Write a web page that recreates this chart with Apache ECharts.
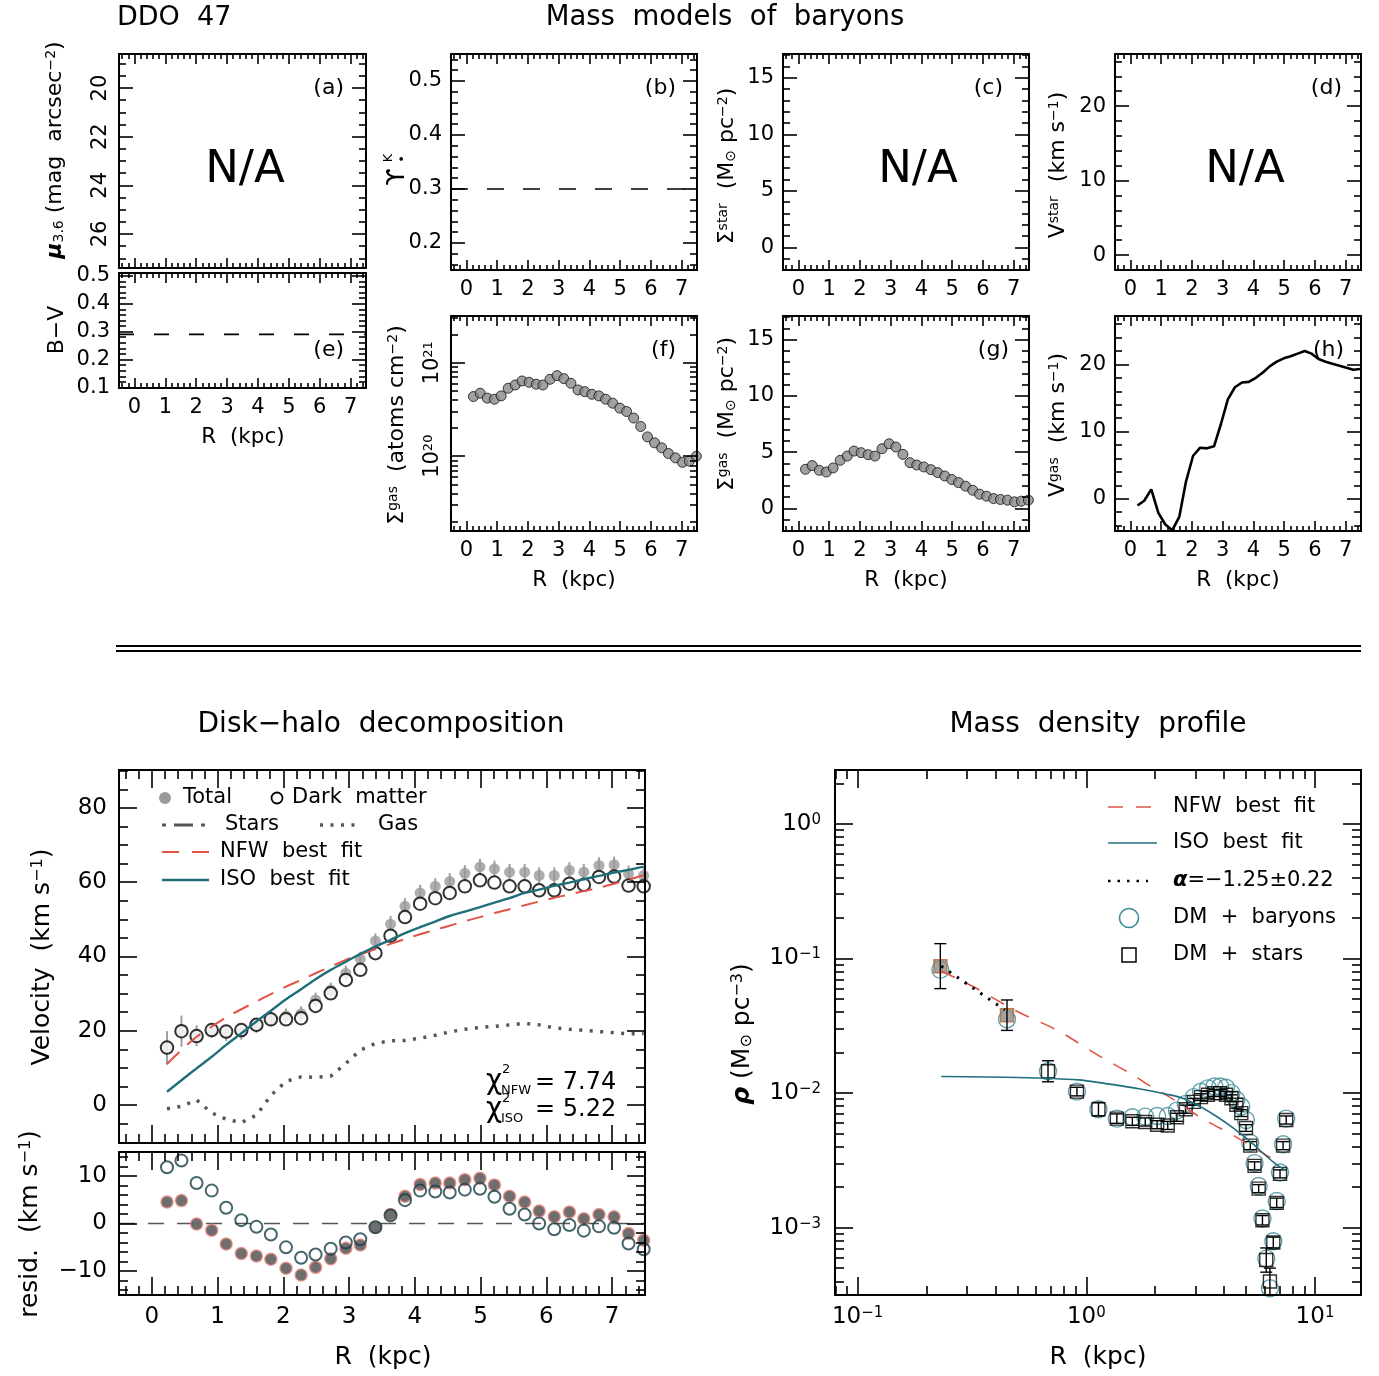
<!DOCTYPE html>
<html><head><meta charset="utf-8">
<script src="https://cdn.jsdelivr.net/npm/echarts@6/dist/echarts.min.js"></script>
<style>html,body{margin:0;padding:0;background:#fff}#c{width:1379px;height:1376px}</style>
</head><body><div id="c"></div>
<script>
// ---------------- DATA ----------------
const R = [0.23, 0.45, 0.68, 0.91, 1.13, 1.36, 1.59, 1.81, 2.04, 2.27, 2.49, 2.72, 2.95, 3.17, 3.40, 3.63, 3.85, 4.08, 4.31, 4.53, 4.76, 4.99, 5.21, 5.44, 5.67, 5.89, 6.12, 6.35, 6.57, 6.80, 7.03, 7.25, 7.48];
const sigmaGasAtoms = [4.35e20, 4.72e20, 4.18e20, 4.07e20, 4.42e20, 5.33e20, 5.78e20, 6.38e20, 6.18e20, 5.89e20, 5.78e20, 6.65e20, 7.28e20, 6.76e20, 6.03e20, 5.12e20, 4.91e20, 4.60e20, 4.42e20, 4.07e20, 3.69e20, 3.27e20, 3.01e20, 2.56e20, 2.08e20, 1.61e20, 1.39e20, 1.23e20, 1.07e20, 0.96e20, 0.86e20, 0.885e20, 1.0e20];
const sigmaGasMsun = [3.48, 3.81, 3.39, 3.24, 3.60, 4.28, 4.66, 5.10, 4.96, 4.78, 4.66, 5.31, 5.75, 5.46, 4.81, 4.07, 3.86, 3.69, 3.45, 3.19, 2.89, 2.57, 2.30, 1.98, 1.62, 1.27, 1.09, 0.88, 0.80, 0.74, 0.59, 0.65, 0.74];
const vGas = [-1.0, -0.3, 1.4, -2.1, -3.8, -4.7, -2.7, 2.6, 6.4, 7.6, 7.5, 7.8, 11.2, 14.8, 16.6, 17.3, 17.4, 18.0, 18.8, 19.7, 20.4, 20.9, 21.2, 21.6, 22.0, 21.6, 20.8, 20.4, 20.1, 19.8, 19.5, 19.2, 19.3];
const vTotal = [15.4, 19.9, 18.7, 20.1, 19.4, 19.6, 21.4, 23.2, 24.0, 24.6, 28.3, 31.0, 35.5, 39.3, 44.2, 48.7, 53.5, 57.1, 58.9, 60.2, 62.4, 64.1, 63.6, 62.7, 62.7, 61.8, 61.8, 63.2, 62.7, 64.5, 64.7, 62.3, 61.8];
const vErr = [4.5, 4.2, 2.8, 2.0, 2.2, 2.0, 2.0, 2.0, 2.0, 2.0, 2.0, 2.0, 2.0, 2.0, 2.0, 2.2, 2.2, 2.2, 2.2, 2.2, 2.2, 2.2, 2.2, 2.2, 2.2, 2.2, 2.2, 2.2, 2.2, 2.2, 2.2, 2.2, 2.2];
const vDM = [15.5, 19.9, 18.6, 20.2, 19.8, 20.2, 21.6, 23.1, 23.1, 23.4, 26.7, 30.1, 33.7, 36.4, 40.9, 45.6, 50.6, 54.2, 55.7, 57.1, 58.9, 60.5, 59.9, 58.9, 58.9, 57.8, 57.8, 59.6, 59.3, 61.4, 61.5, 59.1, 58.9];
const vNFW = [11.05, 14.8, 18.4, 21.1, 23.6, 25.8, 27.9, 29.9, 31.9, 33.7, 35.5, 37.3, 39.1, 40.6, 42.0, 43.4, 44.7, 46.0, 47.2, 48.3, 49.5, 50.6, 51.7, 52.7, 53.8, 54.8, 55.8, 56.7, 57.6, 58.5, 59.6, 60.7, 61.9];
const vISO = [3.6, 6.7, 9.9, 13.0, 16.2, 19.3, 22.5, 25.4, 28.5, 31.2, 33.9, 36.4, 38.6, 40.7, 42.7, 44.5, 46.3, 47.9, 49.4, 50.9, 52.1, 53.3, 54.5, 55.7, 57.1, 58.0, 59.0, 59.9, 60.8, 61.7, 62.6, 63.3, 64.2];
const residNFW = [4.5, 4.8, -0.1, -1.4, -4.3, -6.3, -6.8, -7.5, -9.4, -10.8, -9.2, -7.4, -5.2, -4.5, -0.8, 1.9, 5.7, 8.2, 8.5, 8.5, 9.2, 9.5, 8.1, 5.7, 4.5, 2.6, 1.4, 2.4, 1.0, 1.9, 1.4, -2.1, -3.5];
const residISO = [11.8, 13.2, 8.5, 6.9, 3.3, 0.7, -0.7, -2.3, -5.0, -7.2, -6.5, -5.3, -4.0, -3.3, -0.8, 1.7, 4.9, 6.9, 6.7, 6.5, 7.1, 7.3, 5.6, 3.1, 1.9, 0.0, -1.2, -0.3, -1.5, -0.6, -0.9, -4.2, -5.4];
const upsilonK = 0.30;
const colorBV = 0.29;
const residZero = 0;
// density profile
const rhoBaryons = [0.0826, 0.0353, 0.01452, 0.01026, 0.00759, 0.00646, 0.00661, 0.00668, 0.00676, 0.00676, 0.00741, 0.00832, 0.00933, 0.01023, 0.01084, 0.01119, 0.01119, 0.01096, 0.0100, 0.00891, 0.00794, 0.00631, 0.00427, 0.00302, 0.00204, 0.00117, 0.000589, 0.000355, 0.000794, 0.00158, 0.00257, 0.00417, 0.00646];
const rhoStars = [0.0877, 0.0379, 0.01452, 0.01026, 0.00759, 0.00646, 0.00617, 0.00610, 0.00582, 0.00575, 0.00661, 0.00759, 0.00861, 0.00933, 0.00971, 0.0100, 0.0100, 0.00971, 0.00916, 0.00818, 0.0071, 0.0055, 0.00407, 0.00288, 0.00195, 0.001135, 0.000575, 0.000398, 0.000776, 0.00153, 0.00251, 0.00407, 0.00631];
const rhoErrDex = [0.167, 0.113, 0.078, 0.032, 0.05, 0.035, 0.03, 0.03, 0.03, 0.03, 0.03, 0.03, 0.025, 0.025, 0.025, 0.025, 0.025, 0.025, 0.025, 0.025, 0.025, 0.025, 0.03, 0.03, 0.03, 0.035, 0.09, 0.1, 0.04, 0.035, 0.03, 0.03, 0.03];
const alphaFitIdx = [0, 1];
const isoCurveR = [0.232, 0.501, 0.923, 1.219, 1.722, 2.275, 2.655, 3.141, 3.715, 4.395, 5.2, 6.152, 6.81, 7.396];
const isoCurveRho = [0.01327, 0.01306, 0.01253, 0.01175, 0.01072, 0.00977, 0.00912, 0.00794, 0.0067, 0.0055, 0.00438, 0.00338, 0.00293, 0.00269];
const nfwCurveR = [0.232, 0.326, 0.494, 0.75, 1.137, 1.61, 1.9, 2.28, 3.19, 4.43, 6.17, 6.65];
const nfwCurveRho = [0.0807, 0.0608, 0.0407, 0.0291, 0.0189, 0.01352, 0.0113, 0.0095, 0.00652, 0.00481, 0.00342, 0.00319];
const alphaR = [0.232, 0.44];
const alphaRho = [0.0877, 0.0415];
// tick labels
const rTicks = [0, 1, 2, 3, 4, 5, 6, 7];
const muTicks = [20, 22, 24, 26];
const bvTicks = [0.1, 0.2, 0.3, 0.4, 0.5];
const upsTicks = [0.2, 0.3, 0.4, 0.5];
const sigTicks = [0, 5, 10, 15];
const vTicks = [0, 10, 20];
const gasLogTicks = [20, 21];
const velTicks = [0, 20, 40, 60, 80];
const resTicks = [-10, 0, 10];
const densXLogTicks = [-1, 0, 1];
const densYLogTicks = [-3, -2, -1, 0];

// ---------------- HELPERS ----------------
const FONT = 'DejaVu Sans';
const BLACK = '#000';
const RED = '#e05346';
const TEAL = '#1f6f7b';
const grids = [], xAxes = [], yAxes = [], series = [], graphics = [];

function steps(a, b, s) { const o = []; for (let v = a; v <= b + 1e-9; v += s) o.push(+v.toFixed(6)); return o; }
function linMinors(min, max, s, majors) {
  return steps(Math.ceil(min / s - 1e-9) * s, max, s).filter(v => v >= min - 1e-9 && !majors.some(m => Math.abs(m - v) < 1e-6));
}
function logMinors(lmin, lmax) {
  const o = [];
  for (let n = Math.floor(lmin); n <= Math.ceil(lmax); n++) for (let k = 2; k <= 9; k++) {
    const v = n + Math.log10(k); if (v >= lmin - 1e-9 && v <= lmax + 1e-9) o.push(v);
  }
  return o;
}
const fmtLin = v => (v < 0 ? '\u2212' + Math.abs(v) : String(v));
const fmtLog = v => { const e = Math.round(v); return '{b|10}{s|' + (e < 0 ? '\u2212' + Math.abs(e) : e) + '}'; };
const logRich = (fs) => ({
  b: { fontSize: fs, fontFamily: FONT, color: BLACK },
  s: { fontSize: Math.round(fs * 0.64), fontFamily: FONT, color: BLACK, verticalAlign: 'top' }
});

function baseAxis(g, pos, type, min, max, o) {
  const ax = {
    type: type, gridIndex: g, position: pos, min: min, max: max, inverse: !!o.inverse,
    axisLine: { show: !!o.line, onZero: false, lineStyle: { color: BLACK, width: 2 } },
    axisTick: o.ticks ? { show: true, inside: true, length: o.len, customValues: o.ticks, lineStyle: { color: BLACK, width: 1.6 } } : { show: false },
    axisLabel: { show: false },
    splitLine: { show: false }, minorTick: { show: false }, minorSplitLine: { show: false },
    axisPointer: { show: false }, silent: true, z: 10
  };
  if (type === 'log') ax.logBase = 10;
  if (o.labels) {
    ax.axisLabel = { show: true, customValues: o.labels, color: BLACK, fontFamily: FONT, fontSize: o.fs || 21,
      margin: o.margin == null ? 8 : o.margin, rotate: o.rotate || 0, formatter: o.fmt || fmtLin,
      showMinLabel: true, showMaxLabel: true };
    if (o.rich) ax.axisLabel.rich = o.rich;
  }
  return ax;
}
function panel(box, X, Y) {
  const g = grids.length;
  grids.push({ left: box[0], top: box[1], width: box[2], height: box[3], containLabel: false });
  const xi = xAxes.length, yi = yAxes.length;
  const xt = X.type === 'log' ? [Math.log10(X.min), Math.log10(X.max)] : [X.min, X.max];
  const yt = Y.type === 'log' ? [Math.log10(Y.min), Math.log10(Y.max)] : [Y.min, Y.max];
  xAxes.push(baseAxis(g, 'bottom', X.type, X.min, X.max, { line: true }));
  xAxes.push(baseAxis(g, 'bottom', 'value', xt[0], xt[1], { ticks: X.majors, len: X.majLen, labels: X.labels ? X.majors : null, fs: X.fs, margin: X.margin, fmt: X.fmt, rich: X.rich, rotate: X.rotate }));
  xAxes.push(baseAxis(g, 'bottom', 'value', xt[0], xt[1], { ticks: X.minors, len: X.minLen }));
  xAxes.push(baseAxis(g, 'top', 'value', xt[0], xt[1], { line: true, ticks: X.majors, len: X.majLen }));
  xAxes.push(baseAxis(g, 'top', 'value', xt[0], xt[1], { ticks: X.minors, len: X.minLen }));
  const inv = !!Y.inverse;
  yAxes.push(baseAxis(g, 'left', Y.type, Y.min, Y.max, { line: true, inverse: inv }));
  yAxes.push(baseAxis(g, 'left', 'value', yt[0], yt[1], { inverse: inv, ticks: Y.majors, len: Y.majLen, labels: Y.labels ? Y.majors : null, fs: Y.fs, margin: Y.margin, fmt: Y.fmt, rich: Y.rich, rotate: Y.rotate }));
  yAxes.push(baseAxis(g, 'left', 'value', yt[0], yt[1], { inverse: inv, ticks: Y.minors, len: Y.minLen }));
  yAxes.push(baseAxis(g, 'right', 'value', yt[0], yt[1], { inverse: inv, line: true, ticks: Y.majors, len: Y.majLen }));
  yAxes.push(baseAxis(g, 'right', 'value', yt[0], yt[1], { inverse: inv, ticks: Y.minors, len: Y.minLen }));
  return { xi, yi };
}
function S(p, o) { return Object.assign({ xAxisIndex: p.xi, yAxisIndex: p.yi, animation: false, silent: true }, o); }

function smallX(labels) {
  return { type: 'value', min: -0.5, max: 7.5, majors: rTicks, minors: linMinors(-0.5, 7.5, 0.2, rTicks), majLen: 10, minLen: 5, labels: labels, fs: 21, margin: 9 };
}
function bigX(labels) {
  return { type: 'value', min: -0.5, max: 7.5, majors: rTicks, minors: linMinors(-0.5, 7.5, 0.2, rTicks), majLen: 18, minLen: 9, labels: labels, fs: 23, margin: 11 };
}
function smallY(min, max, majors, step, extra) {
  return Object.assign({ type: 'value', min, max, majors, minors: linMinors(min, max, step, majors), majLen: 14, minLen: 7, labels: true, fs: 21, margin: 9 }, extra || {});
}

// ---------------- PANELS ----------------
const pA = panel([119, 54, 247, 214], smallX(false), smallY(18.6, 27.4, muTicks, 0.5, { inverse: true, rotate: 90, margin: 8 }));
const pE = panel([119, 273, 247, 115], smallX(true), smallY(0.098, 0.51, bvTicks, 0.02));
const pB = panel([451, 54, 246, 216], smallX(true), smallY(0.15, 0.55, upsTicks, 0.02));
const pC = panel([783, 54, 246, 216], smallX(true), smallY(-2, 17.1, sigTicks, 1));
const pD = panel([1115, 54, 246, 216], smallX(true), smallY(-2, 27, vTicks, 2));
const pF = panel([451, 316, 246, 215], smallX(true), { type: 'log', min: Math.pow(10, 19.2), max: Math.pow(10, 21.5), majors: gasLogTicks, minors: logMinors(19.2, 21.5), majLen: 14, minLen: 7, labels: true, fs: 21, margin: 8, rotate: 90, fmt: fmtLog, rich: logRich(21) });
const pG = panel([783, 316, 246, 215], smallX(true), smallY(-2, 17.1, sigTicks, 1));
const pH = panel([1115, 316, 246, 215], smallX(true), smallY(-4.8, 27.2, vTicks, 2));
const pV = panel([119, 770, 526, 373], bigX(false), { type: 'value', min: -10.2, max: 90.2, majors: velTicks, minors: linMinors(-10.2, 90.2, 5, velTicks), majLen: 18, minLen: 9, labels: true, fs: 23, margin: 12 });
const pR = panel([119, 1152, 526, 143], bigX(true), { type: 'value', min: -15, max: 15, majors: resTicks, minors: linMinors(-15, 15, 2, resTicks), majLen: 18, minLen: 9, labels: true, fs: 23, margin: 12 });
const dxMin = Math.pow(10, -1.0988), dxMax = Math.pow(10, 1.201), dyMin = Math.pow(10, -3.5), dyMax = Math.pow(10, 0.4);
const pP = panel([835, 770, 526, 525],
  { type: 'log', min: dxMin, max: dxMax, majors: densXLogTicks, minors: logMinors(-1.0988, 1.201), majLen: 18, minLen: 9, labels: true, fs: 23, margin: 11, fmt: fmtLog, rich: logRich(23) },
  { type: 'log', min: dyMin, max: dyMax, majors: densYLogTicks, minors: logMinors(-3.5, 0.4), majLen: 18, minLen: 9, labels: true, fs: 23, margin: 14, fmt: fmtLog, rich: logRich(23) });

// ---------------- SERIES ----------------
const gasSym = { symbol: 'circle', symbolSize: 10, itemStyle: { color: '#8a8a8a', borderColor: '#111', borderWidth: 1 } };
series.push(S(pB, { type: 'line', data: [[-0.5, upsilonK], [7.5, upsilonK]], symbol: 'none', lineStyle: { color: BLACK, width: 1.6, type: [17, 19] } }));
series.push(S(pE, { type: 'line', data: [[-0.5, colorBV], [7.5, colorBV]], symbol: 'none', lineStyle: { color: BLACK, width: 1.6, type: [15, 20] } }));
series.push(S(pF, Object.assign({ type: 'scatter', data: R.map((r, i) => [r, sigmaGasAtoms[i]]) }, gasSym)));
series.push(S(pG, Object.assign({ type: 'scatter', data: R.map((r, i) => [r, sigmaGasMsun[i]]) }, gasSym)));
series.push(S(pH, { type: 'line', data: R.map((r, i) => [r, vGas[i]]), symbol: 'none', lineStyle: { color: BLACK, width: 2.6 } }));

function errBars(p, data, color, width, cap, z) {
  return S(p, { type: 'custom', data: data, z: z || 2, clip: true,
    encode: { x: 0, y: [1, 2] },
    renderItem: function (params, api) {
      const x = api.value(0), lo = api.value(1), hi = api.value(2);
      const a = api.coord([x, lo]), b = api.coord([x, hi]);
      const ch = [{ type: 'line', shape: { x1: a[0], y1: a[1], x2: b[0], y2: b[1] }, style: { stroke: color, lineWidth: width } }];
      if (cap) {
        ch.push({ type: 'line', shape: { x1: a[0] - cap, y1: a[1], x2: a[0] + cap, y2: a[1] }, style: { stroke: color, lineWidth: width } });
        ch.push({ type: 'line', shape: { x1: b[0] - cap, y1: b[1], x2: b[0] + cap, y2: b[1] }, style: { stroke: color, lineWidth: width } });
      }
      return { type: 'group', children: ch };
    } });
}
// disk-halo
series.push(errBars(pV, R.map((r, i) => [r, vTotal[i] - vErr[i], vTotal[i] + vErr[i]]), '#a0a0a0', 2, 0, 2));
series.push(S(pV, { type: 'scatter', z: 3, data: R.map((r, i) => [r, vTotal[i]]), symbol: 'circle', symbolSize: 11, itemStyle: { color: '#9a9a9a' } }));
series.push(S(pV, { type: 'scatter', z: 4, data: R.map((r, i) => [r, vDM[i]]), symbol: 'circle', symbolSize: 12.5, itemStyle: { color: '#fff', borderColor: BLACK, borderWidth: 2 } }));
series.push(S(pV, { type: 'line', z: 5, data: R.map((r, i) => [r, vGas[i]]), symbol: 'none', lineStyle: { color: '#555', width: 3.5, type: [3, 7.5] } }));
series.push(S(pV, { type: 'line', z: 6, data: R.map((r, i) => [r, vNFW[i]]), symbol: 'none', smooth: 0.3, lineStyle: { color: RED, width: 2, type: [17, 11] } }));
series.push(S(pV, { type: 'line', z: 7, data: R.map((r, i) => [r, vISO[i]]), symbol: 'none', smooth: 0.3, lineStyle: { color: TEAL, width: 2.4 } }));
// residuals
series.push(S(pR, { type: 'line', z: 2, data: [[-0.5, residZero], [7.5, residZero]], symbol: 'none', lineStyle: { color: '#555', width: 1.6, type: [16, 13] } }));
series.push(S(pR, { type: 'scatter', z: 3, data: R.map((r, i) => [r, residNFW[i]]), symbol: 'circle', symbolSize: 12, itemStyle: { color: '#4a4a4a', borderColor: '#e8877d', borderWidth: 1.5 } }));
series.push(S(pR, { type: 'scatter', z: 4, data: R.map((r, i) => [r, residISO[i]]), symbol: 'circle', symbolSize: 12, itemStyle: { color: 'rgba(0,0,0,0)', borderColor: '#173f47', borderWidth: 2 } }));
// density
series.push(errBars(pP, R.map((r, i) => [r, rhoStars[i] * Math.pow(10, -rhoErrDex[i]), rhoStars[i] * Math.pow(10, rhoErrDex[i])]), BLACK, 1.4, 6, 5));
series.push(S(pP, { type: 'scatter', z: 3, data: R.map((r, i) => [r, rhoBaryons[i]]), symbol: 'circle', symbolSize: 17, itemStyle: { color: 'rgba(0,0,0,0)', borderColor: '#3c8b97', borderWidth: 1.4 } }));
series.push(S(pP, { type: 'scatter', z: 4, data: R.map((r, i) => [r, rhoStars[i]]).filter((d, i) => alphaFitIdx.indexOf(i) < 0), symbol: 'rect', symbolSize: 13, itemStyle: { color: 'rgba(0,0,0,0)', borderColor: BLACK, borderWidth: 1.4 } }));
series.push(S(pP, { type: 'scatter', z: 4, data: alphaFitIdx.map(i => [R[i], rhoStars[i]]), symbol: 'rect', symbolSize: 13, itemStyle: { color: '#8c8c8c', borderColor: '#b8642a', borderWidth: 1.5 } }));
series.push(S(pP, { type: 'line', z: 6, data: nfwCurveR.map((r, i) => [r, nfwCurveRho[i]]), symbol: 'none', smooth: 0.3, lineStyle: { color: RED, width: 1.6, type: [15, 13] } }));
series.push(S(pP, { type: 'line', z: 7, data: isoCurveR.map((r, i) => [r, isoCurveRho[i]]), symbol: 'none', smooth: 0.3, lineStyle: { color: TEAL, width: 1.6 } }));
series.push(S(pP, { type: 'line', z: 8, data: alphaR.map((r, i) => [r, alphaRho[i]]), symbol: 'none', lineStyle: { color: BLACK, width: 3, type: [2.5, 7] } }));

// ---------------- TEXT & DECORATION ----------------
function RT(fs) {
  const sm = Math.round(fs * 0.62);
  return {
    n: { fontSize: fs, fontFamily: FONT, fill: BLACK, color: BLACK },
    p: { fontSize: sm, fontFamily: FONT, fill: BLACK, color: BLACK, verticalAlign: 'top' },
    b: { fontSize: sm, fontFamily: FONT, fill: BLACK, color: BLACK, verticalAlign: 'bottom' },
    g: { fontSize: fs, fontFamily: FONT, fill: BLACK, color: BLACK, fontWeight: 'bold', fontStyle: 'italic' }
  };
}
function T(x, y, text, o) {
  o = o || {};
  const al = o.align || 'center';
  graphics.push({ type: 'text', x: x, y: y, rotation: o.rot || 0, silent: true, z: 100,
    style: { text: text, fill: BLACK, fontFamily: FONT, fontSize: o.fs || 22, fontStyle: o.italic ? 'italic' : 'normal',
      align: al, textAlign: al, verticalAlign: 'middle', textVerticalAlign: 'middle', rich: o.rich } });
}
function L(x1, y1, x2, y2, stroke, w, dash) {
  graphics.push({ type: 'line', silent: true, z: 100, shape: { x1, y1, x2, y2 }, style: { stroke, lineWidth: w, lineDash: dash || null } });
}
const ROT = Math.PI / 2;
// titles
T(117, 18, 'DDO  47', { fs: 27, align: 'left' });
T(725, 18, 'Mass  models  of  baryons', { fs: 27.5 });
T(381, 725, 'Disk\u2212halo  decomposition', { fs: 28 });
T(1098, 725, 'Mass  density  profile', { fs: 28 });
L(116, 646, 1361, 646, BLACK, 2);
L(116, 651, 1361, 651, BLACK, 2);
// panel tags
[['(a)', 344, 88], ['(b)', 676, 88], ['(c)', 1003, 88], ['(d)', 1342, 88], ['(e)', 344, 350], ['(f)', 676, 350], ['(g)', 1009, 350], ['(h)', 1344, 350]]
  .forEach(t => T(t[1], t[2], t[0], { fs: 22, align: 'right' }));
T(245, 170, 'N/A', { fs: 45 });
T(918, 170, 'N/A', { fs: 45 });
T(1245, 170, 'N/A', { fs: 45 });
// x names
T(243, 437, 'R  (kpc)', { fs: 21.5 });
T(574, 580, 'R  (kpc)', { fs: 21.5 });
T(906, 580, 'R  (kpc)', { fs: 21.5 });
T(1238, 580, 'R  (kpc)', { fs: 21.5 });
T(383, 1357, 'R  (kpc)', { fs: 25 });
T(1098, 1357, 'R  (kpc)', { fs: 25 });
// y names
T(55, 150, '{g|\u03bc}{b|3.6}{n| (mag  arcsec}{p|\u22122}{n|)}', { rot: ROT, rich: RT(22) });
T(57, 330, '{n|B\u2212V}', { rot: ROT, rich: RT(22) });
T(397, 177, '{n|\u03d2}', { rot: ROT, rich: RT(25) });
T(389, 158, 'K', { rot: ROT, fs: 13 });
T(403, 159, '\u2022', { rot: ROT, fs: 13 });
T(727, 166, '{n|\u03a3}{p|star}{n|  (M}{b|\u2299}{n| pc}{p|\u22122}{n|)}', { rot: ROT, rich: RT(22) });
T(1058, 165, '{n|V}{p|star}{n|  (km s}{p|\u22121}{n|)}', { rot: ROT, rich: RT(22) });
T(397, 425, '{n|\u03a3}{p|gas}{n|  (atoms cm}{p|\u22122}{n|)}', { rot: ROT, rich: RT(22) });
T(727, 414, '{n|\u03a3}{p|gas}{n|  (M}{b|\u2299}{n| pc}{p|\u22122}{n|)}', { rot: ROT, rich: RT(22) });
T(1058, 425, '{n|V}{p|gas}{n|  (km s}{p|\u22121}{n|)}', { rot: ROT, rich: RT(22) });
T(42, 957, '{n|Velocity  (km s}{p|\u22121}{n|)}', { rot: ROT, rich: RT(25) });
T(30, 1224, '{n|resid.  (km s}{p|\u22121}{n|)}', { rot: ROT, rich: RT(25) });
T(742, 1034, '{g|\u03c1}{n| (M}{b|\u2299}{n| pc}{p|\u22123}{n|)}', { rot: ROT, rich: RT(25) });
// disk-halo legend
graphics.push({ type: 'circle', silent: true, z: 100, shape: { cx: 165, cy: 798, r: 6 }, style: { fill: '#9a9a9a' } });
T(183, 798, 'Total', { fs: 21, align: 'left' });
graphics.push({ type: 'circle', silent: true, z: 100, shape: { cx: 277, cy: 798, r: 5.5 }, style: { fill: '#fff', stroke: BLACK, lineWidth: 1.8 } });
T(292, 798, 'Dark  matter', { fs: 21, align: 'left' });
L(162, 825, 166, 825, '#555', 3);
L(174, 825, 193, 825, '#555', 3);
L(201, 825, 205, 825, '#555', 3);
T(225, 825, 'Stars', { fs: 21, align: 'left' });
L(320, 825, 360, 825, '#555', 3.5, [3, 7.5]);
T(378, 825, 'Gas', { fs: 21, align: 'left' });
L(162, 852, 209, 852, RED, 2, [17, 13]);
T(220, 852, 'NFW  best  fit', { fs: 21, align: 'left' });
L(162, 880, 209, 880, TEAL, 2.4);
T(220, 880, 'ISO  best  fit', { fs: 21, align: 'left' });
// chi-square annotations
T(486, 1082, '\u03c7', { fs: 28, align: 'left' });
T(502, 1070, '2', { fs: 13, align: 'left' });
T(501, 1091, 'NFW', { fs: 13, align: 'left' });
T(535, 1083, '= 7.74', { fs: 24, align: 'left' });
T(486, 1110, '\u03c7', { fs: 28, align: 'left' });
T(502, 1099, '2', { fs: 13, align: 'left' });
T(501, 1119, 'ISO', { fs: 13, align: 'left' });
T(535, 1110, '= 5.22', { fs: 24, align: 'left' });
// density legend
L(1108, 807, 1164, 807, RED, 1.6, [15, 13]);
T(1173, 807, 'NFW  best  fit', { fs: 21, align: 'left' });
L(1108, 843, 1157, 843, TEAL, 1.6);
T(1173, 843, 'ISO  best  fit', { fs: 21, align: 'left' });
L(1108, 881, 1148, 881, BLACK, 2.5, [2.5, 7]);
T(1173, 881, '{g|\u03b1}{n|=\u22121.25\u00b10.22}', { rich: RT(21), align: 'left' });
graphics.push({ type: 'circle', silent: true, z: 100, shape: { cx: 1129, cy: 918, r: 9.5 }, style: { fill: 'none', stroke: '#3c8b97', lineWidth: 1.6 } });
T(1173, 918, 'DM  +  baryons', { fs: 21, align: 'left' });
graphics.push({ type: 'rect', silent: true, z: 100, shape: { x: 1122, y: 948, width: 14, height: 14 }, style: { fill: 'none', stroke: BLACK, lineWidth: 1.5 } });
T(1173, 955, 'DM  +  stars', { fs: 21, align: 'left' });

const chart = echarts.init(document.getElementById('c'), null, { renderer: 'canvas', width: 1379, height: 1376 });
chart.setOption({
  animation: false,
  backgroundColor: '#fff',
  textStyle: { fontFamily: FONT },
  grid: grids, xAxis: xAxes, yAxis: yAxes, series: series, graphic: graphics
});
</script>
</body></html>
